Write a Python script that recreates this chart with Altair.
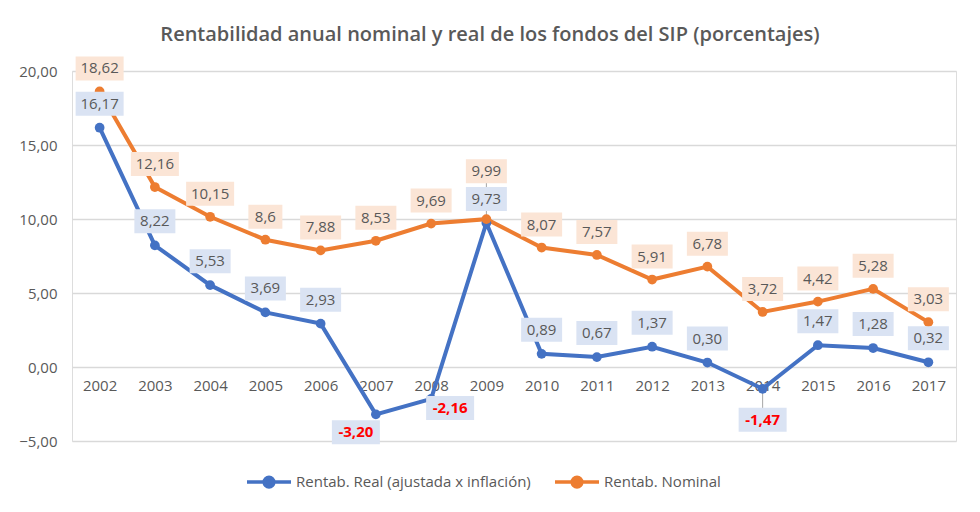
import altair as alt
import pandas as pd

years = [str(y) for y in range(2002, 2018)]
real = [16.17, 8.22, 5.53, 3.69, 2.93, -3.20, -2.16, 9.73, 0.89, 0.67, 1.37, 0.30, -1.47, 1.47, 1.28, 0.32]
nominal = [18.62, 12.16, 10.15, 8.6, 7.88, 8.53, 9.69, 9.99, 8.07, 7.57, 5.91, 6.78, 3.72, 4.42, 5.28, 3.03]
series_names = ["Rentab. Real (ajustada x inflación)", "Rentab. Nominal"]
real_labels = [f"{v:.2f}".replace(".", ",") for v in real]
nominal_labels = [str(v).replace(".", ",") for v in nominal]

rows = []
for y, v, l in zip(years, real, real_labels):
    rows.append({"year": y, "value": v, "series": series_names[0], "label": l, "n": len(l)})
for y, v, l in zip(years, nominal, nominal_labels):
    rows.append({"year": y, "value": v, "series": series_names[1], "label": l, "n": len(l)})
df = pd.DataFrame(rows)

GRAY = "#595959"
FONT = "Open Sans"
x_enc = alt.X("year:O", scale=alt.Scale(type="point", padding=0.5),
              axis=alt.Axis(title=None, orient="bottom", offset=-74, domain=False, ticks=False,
                            grid=False, labelFontSize=15, labelColor=GRAY, labelPadding=11,
                            labelFont=FONT, labelAngle=0))
y_enc = alt.Y("value:Q", scale=alt.Scale(domain=[-5, 20], nice=False, zero=False),
              axis=alt.Axis(title=None, values=[-5, 0, 5, 10, 15, 20], domain=False, ticks=False,
                            gridColor="#d9d9d9", gridWidth=1.5, labelFontSize=15, labelColor=GRAY,
                            labelFont=FONT, labelPadding=15,
                            labelExpr="replace(format(datum.value, '.2f'), '.', ',')"))
color_enc = alt.Color("series:N", scale=alt.Scale(domain=series_names, range=["#4472c4", "#ed7d31"]),
                      legend=alt.Legend(title=None, orient="none", legendX=173, legendY=387,
                                        direction="horizontal", labelFontSize=15, labelColor=GRAY,
                                        labelFont=FONT, columnPadding=17, labelOffset=3, labelLimit=0,
                                        symbolType="M-1,0H1M-0.22,0a0.22,0.22 0 1,0 0.44,0a0.22,0.22 0 1,0 -0.44,0",
                                        symbolSize=1936, symbolStrokeWidth=3.5))

base = alt.Chart(df).encode(x=x_enc, y=y_enc)

lines = base.mark_line(strokeWidth=4).encode(color=color_enc)
points = base.mark_circle(size=95, opacity=1).encode(color=color_enc)

leaders = [
    base.mark_rule(color="#a6a6a6", strokeWidth=1, yOffset=-37).encode(y2="value:Q").transform_filter(
        f"datum.series == '{series_names[1]}' && datum.year == '2009'"),
    base.mark_rule(color="#a6a6a6", strokeWidth=1, y2Offset=20).encode(y2="value:Q").transform_filter(
        f"datum.series == '{series_names[0]}' && datum.year == '2014'"),
]

groups = [
    (f"datum.series == '{series_names[1]}' && datum.year != '2009'", 0, -23, "#fbe5d6", False),
    (f"datum.series == '{series_names[1]}' && datum.year == '2009'", 0, -48, "#fbe5d6", False),
    (f"datum.series == '{series_names[0]}' && datum.year != '2007' && datum.year != '2008' && datum.year != '2014'", 0, -24, "#dae3f3", False),
    (f"datum.series == '{series_names[0]}' && datum.year == '2007'", -20, 18, "#dae3f3", True),
    (f"datum.series == '{series_names[0]}' && datum.year == '2008'", 19, 9, "#dae3f3", True),
    (f"datum.series == '{series_names[0]}' && datum.year == '2014'", 0, 31, "#dae3f3", True),
]
widths = {3: 34, 4: 41, 5: 48}

label_layers = []
for filt, dx, dy, bg, neg in groups:
    for n, w in widths.items():
        label_layers.append(
            base.mark_rect(color=bg, width=w, height=24, xOffset=dx, yOffset=dy, opacity=1)
            .transform_filter(f"({filt}) && datum.n == {n}")
        )
for filt, dx, dy, bg, neg in groups:
    label_layers.append(
        base.mark_text(fontSize=15, font=FONT, color="#ff0000" if neg else GRAY,
                       fontWeight="bold" if neg else "normal", dx=dx, dy=dy, baseline="middle")
        .encode(text="label:N").transform_filter(filt)
    )

chart = alt.layer(*leaders, lines, points, *label_layers).properties(
    width=884, height=370,
    padding={"left": 72, "top": 71, "right": 24, "bottom": 71},
    autosize="none",
    title=alt.TitleParams("Rentabilidad anual nominal y real de los fondos del SIP (porcentajes)",
                          fontSize=20, font=FONT, color=GRAY, fontWeight=600,
                          anchor="middle", dx=-24, offset=11),
).configure_view(stroke=None).configure(background="white")

chart.save("out.html", embed_options={"renderer": "svg", "actions": False})
